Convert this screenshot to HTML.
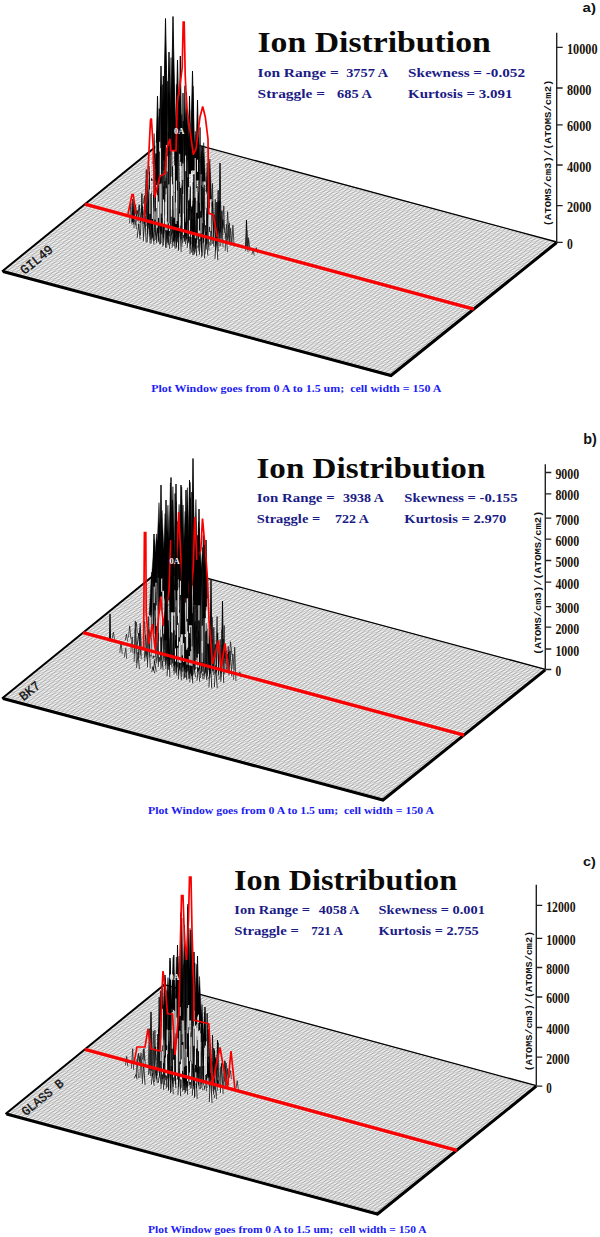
<!DOCTYPE html>
<html lang="en"><head><meta charset="utf-8"><title>Ion Distribution</title>
<style>html,body{margin:0;padding:0;background:#fff}body{width:600px;height:1237px;overflow:hidden}</style>
</head><body>
<svg width="600" height="1237" viewBox="0 0 600 1237" style="display:block">
<rect width="600" height="1237" fill="#fff"/>
<g>
<polygon points="2,271.5 167.7,137 556.7,242 391,376.5" fill="#fdfdfd"/>
<path d="M2 271.5L391 376.5M3.66 270.15L392.66 375.15M5.31 268.81L394.31 373.81M6.97 267.46L395.97 372.46M8.63 266.12L397.63 371.12M10.29 264.77L399.29 369.77M11.94 263.43L400.94 368.43M13.6 262.08L402.6 367.08M15.26 260.74L404.26 365.74M16.91 259.39L405.91 364.39M18.57 258.05L407.57 363.05M20.23 256.7L409.23 361.7M21.88 255.36L410.88 360.36M23.54 254.01L412.54 359.01M25.2 252.67L414.2 357.67M26.86 251.32L415.86 356.32M28.51 249.98L417.51 354.98M30.17 248.63L419.17 353.63M31.83 247.29L420.83 352.29M33.48 245.94L422.48 350.94M35.14 244.6L424.14 349.6M36.8 243.25L425.8 348.25M38.45 241.91L427.45 346.91M40.11 240.56L429.11 345.56M41.77 239.22L430.77 344.22M43.43 237.88L432.43 342.88M45.08 236.53L434.08 341.53M46.74 235.19L435.74 340.19M48.4 233.84L437.4 338.84M50.05 232.5L439.05 337.5M51.71 231.15L440.71 336.15M53.37 229.81L442.37 334.81M55.02 228.46L444.02 333.46M56.68 227.12L445.68 332.12M58.34 225.77L447.34 330.77M60 224.43L449 329.43M61.65 223.08L450.65 328.08M63.31 221.74L452.31 326.74M64.97 220.39L453.97 325.39M66.62 219.05L455.62 324.05M68.28 217.7L457.28 322.7M69.94 216.36L458.94 321.36M71.59 215.01L460.59 320.01M73.25 213.66L462.25 318.67M74.91 212.32L463.91 317.32M76.57 210.97L465.57 315.98M78.22 209.63L467.22 314.63M79.88 208.28L468.88 313.29M81.54 206.94L470.54 311.94M83.19 205.59L472.19 310.6M84.85 204.25L473.85 309.25M86.51 202.91L475.51 307.9M88.16 201.56L477.16 306.56M89.82 200.22L478.82 305.22M91.48 198.87L480.48 303.87M93.14 197.53L482.13 302.52M94.79 196.18L483.79 301.18M96.45 194.84L485.45 299.84M98.11 193.49L487.11 298.49M99.76 192.14L488.76 297.14M101.42 190.8L490.42 295.8M103.08 189.45L492.08 294.45M104.73 188.11L493.73 293.11M106.39 186.76L495.39 291.76M108.05 185.42L497.05 290.42M109.71 184.07L498.71 289.07M111.36 182.73L500.36 287.73M113.02 181.38L502.02 286.38M114.68 180.04L503.68 285.04M116.33 178.69L505.33 283.69M117.99 177.35L506.99 282.35M119.65 176L508.65 281M121.3 174.66L510.3 279.66M122.96 173.31L511.96 278.31M124.62 171.97L513.62 276.97M126.28 170.62L515.28 275.62M127.93 169.28L516.93 274.28M129.59 167.94L518.59 272.94M131.25 166.59L520.25 271.59M132.9 165.25L521.9 270.25M134.56 163.9L523.56 268.9M136.22 162.56L525.22 267.56M137.87 161.21L526.87 266.21M139.53 159.87L528.53 264.87M141.19 158.52L530.19 263.52M142.85 157.18L531.85 262.18M144.5 155.83L533.5 260.83M146.16 154.49L535.16 259.49M147.82 153.14L536.82 258.14M149.47 151.8L538.47 256.8M151.13 150.45L540.13 255.45M152.79 149.11L541.79 254.11M154.44 147.76L543.44 252.76M156.1 146.42L545.1 251.42M157.76 145.07L546.76 250.07M159.42 143.73L548.42 248.73M161.07 142.38L550.07 247.38M162.73 141.03L551.73 246.03M164.39 139.69L553.39 244.69M166.04 138.34L555.04 243.34M167.7 137L556.7 242" stroke="#767676" stroke-width="0.4" fill="none"/>
<path d="M2 271.5L167.7 137M5.89 272.55L171.59 138.05M9.78 273.6L175.48 139.1M13.67 274.65L179.37 140.15M17.56 275.7L183.26 141.2M21.45 276.75L187.15 142.25M25.34 277.8L191.04 143.3M29.23 278.85L194.93 144.35M33.12 279.9L198.82 145.4M37.01 280.95L202.71 146.45M40.9 282L206.6 147.5M44.79 283.05L210.49 148.55M48.68 284.1L214.38 149.6M52.57 285.15L218.27 150.65M56.46 286.2L222.16 151.7M60.35 287.25L226.05 152.75M64.24 288.3L229.94 153.8M68.13 289.35L233.83 154.85M72.02 290.4L237.72 155.9M75.91 291.45L241.61 156.95M79.8 292.5L245.5 158M83.69 293.55L249.39 159.05M87.58 294.6L253.28 160.1M91.47 295.65L257.17 161.15M95.36 296.7L261.06 162.2M99.25 297.75L264.95 163.25M103.14 298.8L268.84 164.3M107.03 299.85L272.73 165.35M110.92 300.9L276.62 166.4M114.81 301.95L280.51 167.45M118.7 303L284.4 168.5M122.59 304.05L288.29 169.55M126.48 305.1L292.18 170.6M130.37 306.15L296.07 171.65M134.26 307.2L299.96 172.7M138.15 308.25L303.85 173.75M142.04 309.3L307.74 174.8M145.93 310.35L311.63 175.85M149.82 311.4L315.52 176.9M153.71 312.45L319.41 177.95M157.6 313.5L323.3 179M161.49 314.55L327.19 180.05M165.38 315.6L331.08 181.1M169.27 316.65L334.97 182.15M173.16 317.7L338.86 183.2M177.05 318.75L342.75 184.25M180.94 319.8L346.64 185.3M184.83 320.85L350.53 186.35M188.72 321.9L354.42 187.4M192.61 322.95L358.31 188.45M196.5 324L362.2 189.5M200.39 325.05L366.09 190.55M204.28 326.1L369.98 191.6M208.17 327.15L373.87 192.65M212.06 328.2L377.76 193.7M215.95 329.25L381.65 194.75M219.84 330.3L385.54 195.8M223.73 331.35L389.43 196.85M227.62 332.4L393.32 197.9M231.51 333.45L397.21 198.95M235.4 334.5L401.1 200M239.29 335.55L404.99 201.05M243.18 336.6L408.88 202.1M247.07 337.65L412.77 203.15M250.96 338.7L416.66 204.2M254.85 339.75L420.55 205.25M258.74 340.8L424.44 206.3M262.63 341.85L428.33 207.35M266.52 342.9L432.22 208.4M270.41 343.95L436.11 209.45M274.3 345L440 210.5M278.19 346.05L443.89 211.55M282.08 347.1L447.78 212.6M285.97 348.15L451.67 213.65M289.86 349.2L455.56 214.7M293.75 350.25L459.45 215.75M297.64 351.3L463.34 216.8M301.53 352.35L467.23 217.85M305.42 353.4L471.12 218.9M309.31 354.45L475.01 219.95M313.2 355.5L478.9 221M317.09 356.55L482.79 222.05M320.98 357.6L486.68 223.1M324.87 358.65L490.57 224.15M328.76 359.7L494.46 225.2M332.65 360.75L498.35 226.25M336.54 361.8L502.24 227.3M340.43 362.85L506.13 228.35M344.32 363.9L510.02 229.4M348.21 364.95L513.91 230.45M352.1 366L517.8 231.5M355.99 367.05L521.69 232.55M359.88 368.1L525.58 233.6M363.77 369.15L529.47 234.65M367.66 370.2L533.36 235.7M371.55 371.25L537.25 236.75M375.44 372.3L541.14 237.8M379.33 373.35L545.03 238.85M383.22 374.4L548.92 239.9M387.11 375.45L552.81 240.95M391 376.5L556.7 242" stroke="#767676" stroke-width="0.45" fill="none"/>
<path d="M2 271.5L167.7 137" stroke="#000" stroke-width="2" fill="none"/>
<path d="M166.7 136.7L556.7 242" stroke="#000" stroke-width="1.3" fill="none"/>
<path d="M3 271.5L391 375.5L556.7 242.5" stroke="#000" stroke-width="3" fill="none" stroke-linejoin="miter"/>
<g transform="translate(24.5 275) rotate(-39.1)"><text x="0" y="0" font-family="'Liberation Mono','DejaVu Sans Mono',monospace" font-size="13.2" font-weight="normal" fill="#111" textLength="38" lengthAdjust="spacingAndGlyphs" stroke="#111" stroke-width="0.35" xml:space="preserve">GIL49</text></g>
<path d="M149.3 180.4L151 178.1L152.7 180.4ZM152.9 164L154.1 133.4L155.3 164ZM155.2 168.7L156.8 130.8L158.4 168.7ZM158.1 155.2L159.8 113.1L161.5 155.2ZM161.4 147.8L162.6 84.6L163.9 147.8ZM164.6 167.2L166 82.3L167.4 167.2ZM167.5 155.1L168.8 93.2L170.1 155.1ZM169.7 149.8L171 57.5L172.4 149.8ZM171.8 146.6L173.4 58.6L175 146.6ZM174.7 161L176.4 84.3L178 161ZM177.8 153.8L179.4 96.2L180.9 153.8ZM180.1 165.9L181.8 114.4L183.4 165.9ZM183 161.9L184.7 85.7L186.5 161.9ZM185.6 159.5L187.3 125.7L189.1 159.5ZM187.8 173.7L189.7 109.9L191.6 173.7ZM191.7 166L193.2 86.2L194.6 166ZM193.6 165.8L195.3 131.2L197 165.8ZM196.8 162.7L198.5 137.2L200.3 162.7ZM199.8 174.1L201.5 146.4L203.2 174.1ZM202 181.3L203.7 142.6L205.4 181.3ZM205.9 191.6L207.2 162.8L208.5 191.6ZM207.9 199L209.8 159L211.6 199Z" fill="#000" stroke="#000" stroke-width="0.5" stroke-linejoin="miter" stroke-miterlimit="30"/>
<path d="M163 150L165.5 18.5L168 150ZM170.4 150L173 16.5L175.6 150ZM158.8 170L161 66L163.2 170ZM155.5 180L157.5 96L159.5 180ZM190.3 170L192.5 71L194.7 170ZM195.6 180L197.5 100L199.4 180ZM166.8 150L169 52L171.2 150ZM175.5 150L177.5 60L179.5 150ZM178.9 150L180.3 56L181.7 150ZM184.7 160L186.5 92L188.3 160ZM161.7 160L163.3 76L164.9 160ZM187.9 170L189.5 96L191.1 170ZM219 238L220 163L221 238ZM245.6 248L246.5 220L247.4 248ZM132.1 222L133 199L133.9 222Z" stroke="#000" stroke-width="0.9" fill="#000" stroke-linejoin="miter" stroke-miterlimit="30"/>
<path d="M145 202.3L146.3 169.4L147.3 203.4M148.9 203.4L150 166.1L151.2 204.5M218.9 222.3L220 186.4L221.2 223.4M143.3 203.7L144.5 195.6L145.7 204.7M174.5 212.1L175.8 181.2L176.8 213.1M153.3 208.2L154.5 157.9L155.7 209.2M165 211.3L166.1 177.9L167.3 212.4M196.1 219.7L197.1 199.7L198.5 220.8M159.5 211.6L160.9 171.8L161.8 212.7M175 215.8L176.4 168.5L177.4 216.9M217.8 227.4L219 201.6L220.2 228.4M148.4 212.2L149.7 187.9L150.7 213.3M195.1 224.8L196.5 190.4L197.4 225.9M202.8 226.9L204.3 184.9L205.2 228M206.7 228L207.9 195.4L209.1 229M222.3 232.2L223.8 205.9L224.6 233.2M170.1 219.9L171.6 205.5L172.4 220.9M220.6 233.5L222 210.7L223 234.6M141.2 213.9L142.5 205.6L143.5 214.9M145.1 214.9L146.5 188.4L147.4 216M148.9 216L149.8 194.7L151.3 217M168.4 221.2L169.2 192.7L170.7 222.3M187.8 226.5L189 199.3L190.2 227.5M195.6 228.6L197.1 186.2L198 229.6M199.5 229.6L200.4 197.6L201.9 230.7M211.2 232.8L212.5 183.4L213.5 233.8M215.1 233.8L216.3 211.8L217.4 234.9M226.7 237L227.6 211.6L229.1 238M155.1 219.4L156.6 178.6L157.4 220.5M162.9 221.5L163.7 185.9L165.2 222.6M170.6 223.6L171.8 184L173 224.7M186.2 227.8L187.1 183.9L188.5 228.9M194 229.9L194.8 186.5L196.3 231M205.6 233.1L207.1 185.7L208 234.1M213.4 235.2L214.9 221.5L215.8 236.2M225.1 238.3L226.6 224.5L227.4 239.4M145.6 218.7L146.9 184.5L148 219.7M165.1 223.9L166 181L167.4 225M169 225L170.4 195.3L171.3 226M196.2 232.3L197.2 202.6L198.5 233.4M200.1 233.4L201.3 185.5L202.4 234.4M207.9 235.5L208.7 210.9L210.2 236.5M215.7 237.6L216.5 202.1L218 238.6M219.5 238.6L220.4 216.2L221.9 239.7M227.3 240.7L228.4 224.9L229.7 241.8M246.8 246L248.3 237.6L249.1 247M144 220L144.9 197.7L146.3 221.1M155.6 223.2L156.7 198.1L158 224.2M179 229.4L180 189.4L181.3 230.5M190.7 232.6L192.1 205.1L193 233.7M214 238.9L215.3 199.5L216.3 240M229.6 243.1L230.6 228.4L231.9 244.2M154 224.5L155 177.5L156.3 225.5M165.7 227.6L166.8 190.9L168 228.7M169.6 228.7L170.9 205.1L171.9 229.7M173.4 229.7L174.5 207.5L175.8 230.8M185.1 232.9L186.5 202.8L187.4 233.9M189 233.9L190.5 187.7L191.3 235M196.8 236L197.7 195.6L199.1 237.1M200.7 237.1L202 211.6L203 238.1M227.9 244.4L229.4 222.8L230.2 245.5M231.8 245.5L232.9 225.2L234.1 246.5M247.4 249.7L248.7 239.8L249.7 250.7M255.1 251.8L256.3 247.7L257.5 252.8M136.8 221.6L137.6 212.3L139.1 222.7M160.1 227.9L161.2 178.4L162.4 229M164 229L164.8 181L166.3 230M167.9 230L169 202.4L170.2 231.1M175.7 232.1L177.2 208.8L178 233.2M183.5 234.2L184.7 192.8L185.8 235.3M187.3 235.3L188.2 218.7L189.7 236.3M202.9 239.5L204 188.5L205.2 240.5M206.8 240.5L208.1 212.1L209.1 241.6M210.7 241.6L212.2 202.7L213 242.6M214.6 242.6L216.1 216.2L216.9 243.7M245.7 251L246.8 230.3L248 252.1M146.8 226.1L147.8 178.7L149.1 227.2M162.3 230.3L163.6 189.7L164.7 231.4M189.6 237.7L190.5 186.6L191.9 238.7M193.5 238.7L194.8 210.9L195.8 239.8M205.1 241.9L205.9 211.1L207.5 242.9M216.8 245L217.8 201.8L219.1 246.1M220.7 246.1L221.6 211.5L223 247.1M251.8 254.5L253.2 250L254.2 255.5M129.6 223.3L130.9 202.6L131.9 224.3M133.5 224.3L134.5 215.7L135.8 225.4M145.1 227.5L146.3 180.9L147.5 228.5M164.6 232.7L165.5 206.8L166.9 233.8M180.1 236.9L181.1 197.3L182.5 238M215.2 246.4L216.1 203.3L217.5 247.4M147.4 229.9L148.4 208.3L149.7 230.9M197.9 243.5L199.4 204.6L200.3 244.6M205.7 245.6L207.2 222.5L208 246.7M225.2 250.9L226 233.5L227.5 251.9M134 228.1L134.8 203.8L136.4 229.1M149.6 232.3L151 213.5L151.9 233.3M161.3 235.4L162.6 197.7L163.6 236.5M180.7 240.7L181.9 194.6L183.1 241.7M194.6 246.2L195.8 200.9L197 247.3M198.5 247.3L199.6 233.1L200.8 248.3M161.8 239.2L162.7 194.5L164.2 240.2M165.7 240.2L167.2 226.6L168.1 241.3M169.6 241.3L171.1 227L172 242.3M177.4 243.4L178.7 223.1L179.7 244.4M196.9 248.6L198.1 201.5L199.2 249.7M148.5 237.4L149.5 198.6L150.8 238.4M164.1 241.6L165.2 205.5L166.4 242.6M179.6 245.8L180.5 213.6L182 246.8M154.6 240.8L155.7 225.2L157 241.8" stroke="#222" stroke-width="0.8" fill="#fff" fill-opacity="0.35" stroke-linejoin="miter" stroke-miterlimit="20"/>
<path d="M198.9 213.3L199.7 203.3L201.2 214.4M197.8 218.4L199.1 180.4L200.1 219.4M207.8 222.9L208.7 195.7L210.1 223.9M221.7 228.4L223 219.5L224 229.5M157.8 213L159.3 134.7L160.1 214M161.7 214L162.8 122.8L164 215.1M185 220.3L186.2 156.8L187.4 221.4M188.9 221.4L190.1 198.5L191.3 222.4M192.8 222.4L194.1 174.5L195.2 223.5M163.9 216.4L165.2 122.9L166.3 217.5M187.3 222.7L188.3 173.3L189.6 223.8M218.4 231.1L219.8 200.7L220.7 232.2M181.7 223L183 93L184.1 224.1M185.6 224.1L186.8 197.8L188 225.1M197.3 227.2L198.3 192.7L199.6 228.3M201.2 228.3L202.4 145.8L203.5 229.3M216.7 232.5L218.2 190.2L219.1 233.5M156.7 218.1L157.8 116.5L159.1 219.1M184 225.4L185 159.8L186.3 226.5M166.7 222.6L167.9 128.5L169.1 223.6M174.5 224.7L175.6 150.8L176.9 225.7M178.4 225.7L179.9 182L180.7 226.8M201.8 232L202.8 187.3L204.1 233.1M137.9 216.6L139.2 204.7L140.2 217.6M176.8 227.1L177.7 126.5L179.1 228.1M184.5 229.2L185.9 124.5L186.9 230.2M192.3 231.3L193.1 182.2L194.6 232.3" stroke="#000" stroke-width="0.8" stroke-linejoin="miter" stroke-miterlimit="20" fill="none"/>
<path d="M136 217.9L137.2 210.4L138.8 219M159.3 224.2L160.6 86.5L162.1 225.2M167.1 226.3L168.3 132.3L169.9 227.3M171 227.3L172.5 166.5L173.8 228.4M174.9 228.4L176.2 148.8L177.7 229.5M186.5 231.5L187.8 177.2L189.3 232.6M194.3 233.7L195.6 172.4L197.1 234.7M198.2 234.7L199.2 202.9L201 235.8M134.3 219.2L135.6 205.4L137.1 220.3M177.1 230.8L178.2 124.4L179.9 231.8M181 231.8L182.1 185.9L183.8 232.9M192.7 235L194.1 174.5L195.5 236M140.4 222.7L142 206.9L143.2 223.7M144.3 223.7L146.1 203.7L147.1 224.8M148.2 224.8L149.9 171.9L151 225.8M179.3 233.2L180.6 183.9L182.1 234.2M191 236.3L192.3 206.9L193.8 237.4M198.8 238.4L200 127.4L201.6 239.5M158.2 229.3L159.3 108.7L161 230.3M166 231.4L167.8 81.3L168.8 232.4M169.9 232.4L171.3 113.7L172.7 233.5M173.8 233.5L175 140.2L176.6 234.5M181.6 235.6L183.1 195.6L184.4 236.6M185.5 236.6L186.8 208.5L188.3 237.7M197.1 239.8L198.6 197.2L199.9 240.8M201 240.8L202.6 201.4L203.8 241.9M212.7 244L214.1 214.8L215.5 245M148.8 228.5L150.1 185.4L151.6 229.6M160.5 231.7L161.6 122.9L163.3 232.7M168.2 233.8L169.7 130.2L171 234.8M176 235.9L177.4 138.1L178.8 236.9M183.8 238L185.3 130.8L186.6 239M187.7 239L189.3 205.2L190.5 240.1M203.2 243.2L204.9 220.1L206 244.3M207.1 244.3L208.6 180.3L209.9 245.3M211 245.3L212.6 201.4L213.8 246.4M154.9 232L156.1 194.1L157.7 233M158.8 233L160.6 171.8L161.6 234.1M166.6 235.1L168.2 196.4L169.4 236.2M174.4 237.2L176 147L177.2 238.3M178.2 238.3L179.6 208.9L181.1 239.3M182.1 239.3L183.3 121L184.9 240.4M186 240.4L187.8 138.2L188.8 241.4M193.8 242.5L195.6 159.7L196.6 243.5M184.4 241.7L185.8 222L187.2 242.8M188.3 242.8L189.5 227.8L191.1 243.8M196 244.9L197.8 216.3L198.8 245.9M215.5 250.1L216.9 232L218.3 251.2M147.7 233.6L149.3 191.7L150.5 234.7M155.5 235.7L157.2 174L158.3 236.8M163.3 237.8L164.5 209.3L166.1 238.9M171 239.9L172.5 219.5L173.8 241M174.9 241L176.2 145.3L177.7 242M182.7 243.1L184.3 218.4L185.5 244.1M190.5 245.2L191.5 208.8L193.3 246.2M206.1 249.4L207.2 213.6L208.9 250.4M149.9 236L151 192.9L152.7 237.1M173.3 242.3L174.5 225.4L176.1 243.4M192.7 247.6L193.9 198.8L195.5 248.6M140.5 235.3L141.9 193.5L143.3 236.3M152.2 238.4L153.4 195L155 239.5M156.1 239.5L157.6 225L158.9 240.5M167.7 242.6L168.8 208.6L170.5 243.7M187.2 247.9L188.8 229.2L190 248.9M198.9 251L200.2 211.1L201.7 252.1M150.5 239.7L151.8 225L153.3 240.8M158.3 241.8L159.6 218.4L161.1 242.9M166.1 243.9L167.1 227.3L168.9 245M173.9 246L175.5 222.6L176.7 247.1M193.3 251.3L194.4 212.1L196.1 252.3M205 254.4L206.2 232L207.8 255.5M137.2 237.9L138.8 223.8L140 239M156.6 243.2L158.2 215.4L159.4 244.2M160.5 244.2L161.7 218.2L163.3 245.3M172.2 247.4L173.7 210L175 248.4M176.1 248.4L177.1 224.2L178.9 249.5M191.6 252.6L193.2 219.6L194.4 253.7M199.4 254.7L200.9 228.9L202.2 255.8M215 258.9L216.3 235.2L217.8 260M143.3 241.4L145 216.2L146.1 242.4M147.2 242.4L148.5 200.8L150 243.5M151.1 243.5L152.6 216.3L153.9 244.5M162.8 246.6L164.4 220.7L165.6 247.7M166.7 247.7L168.1 227.5L169.5 248.7M178.3 250.8L179.7 215.2L181.1 251.9M190 254L191.7 217.3L192.8 255M193.9 255L194.9 237.7L196.7 256.1M201.7 257.1L202.8 223.2L204.5 258.2" stroke="#000" stroke-width="0.8" stroke-linejoin="miter" stroke-miterlimit="20" fill="#fff" fill-opacity="0.72"/>
<path d="M160 184.1V224M155 211.4V219.6M209.6 232V241.9M188.7 187.1V200.4M171.4 180.9V216.7M156.5 185.1V208.1M183.5 213.5V234.9M169.4 223.3V231.1M166.2 188.4V224.1M152.4 195.3V218.9M167.2 156.2V171.6M176.4 180.6V207.9M166.1 194.4V217.6M198.4 218.6V234.1M209.6 208.2V226.9M165.2 201.9V223.9M191.6 170.8V206.4M165.8 215.2V230.1M174.2 193V217.8M183.2 194.1V232.5M195.2 158.1V197.8M150.5 159.7V193.9M166.4 145.1V158.8M180 216.9V225.5M159.7 141.9V151.6M168.9 184.4V223.4M189.4 220.3V236.5M205.5 209.5V225.2M172.4 184.4V195.9M206.3 193.8V208.2M179.7 213.6V230.3M185.6 155.5V171.2M161 183.5V213.5M163.5 199.5V226.2M195.7 233.8V238.2M210.8 206.6V230.9M160.4 148.1V176.8M155.8 142.7V153.4M182.9 163.5V179.9M196.7 188.1V200.9M191.3 232.5V237M176.9 190.5V221M201 217.7V233.6M197.5 159.7V171.8M180.7 161.9V187.9M167 221.7V230.4M199.7 230.6V239.2M196.8 192V212.8M157.1 195.2V227.8M191.8 176V200.8M171.4 176.7V209.5M149.9 189.5V213.9M158.5 201.7V217.9M174.3 165.5V192.6M176 202.4V224" stroke="#f4f4f4" stroke-width="0.95" fill="none"/>
<polyline points="128,214 132,194.5 133.2,194.5 136,214.5" stroke="#fa0000" stroke-width="1.7" fill="none" stroke-linejoin="miter" stroke-miterlimit="3"/>
<polyline points="144,221 148,171 150.5,120 151.4,118.5 153.3,149 154.7,197.5 160,176 165.3,173.5 166.7,149.5 169.9,138.7 170.7,150.7 176,150.7 177.3,101 179.6,88 182.2,68 183.2,22 184.2,22 185.2,75 186.7,107 189.3,125 193.3,154.7 196,149 200,117 202.7,106.5 205.3,117 208,139 208.8,213.3 213.3,214.7 217.3,237.3" stroke="#fa0000" stroke-width="1.7" fill="none" stroke-linejoin="miter" stroke-miterlimit="3"/>
<path d="M84.9 204.2L473.9 309.2" stroke="#fa0000" stroke-width="3.3" fill="none"/>
<text x="174" y="133.5" font-family="'Liberation Serif','DejaVu Serif',serif" font-size="8.5" font-weight="bold" fill="#f4f7ff"  xml:space="preserve">0A</text>
<path d="M556.7 32.7V242" stroke="#222" stroke-width="1.4"/>
<text x="567" y="53.9" font-family="'Liberation Serif','DejaVu Serif',serif" font-size="14.7" font-weight="bold" fill="#1a1208" textLength="30.6" lengthAdjust="spacingAndGlyphs"  xml:space="preserve">10000</text>
<text x="567" y="94.6" font-family="'Liberation Serif','DejaVu Serif',serif" font-size="14.7" font-weight="bold" fill="#1a1208" textLength="24.4" lengthAdjust="spacingAndGlyphs"  xml:space="preserve">8000</text>
<text x="567" y="131.4" font-family="'Liberation Serif','DejaVu Serif',serif" font-size="14.7" font-weight="bold" fill="#1a1208" textLength="24.4" lengthAdjust="spacingAndGlyphs"  xml:space="preserve">6000</text>
<text x="567" y="171.6" font-family="'Liberation Serif','DejaVu Serif',serif" font-size="14.7" font-weight="bold" fill="#1a1208" textLength="24.4" lengthAdjust="spacingAndGlyphs"  xml:space="preserve">4000</text>
<text x="567" y="212.2" font-family="'Liberation Serif','DejaVu Serif',serif" font-size="14.7" font-weight="bold" fill="#1a1208" textLength="24.4" lengthAdjust="spacingAndGlyphs"  xml:space="preserve">2000</text>
<text x="567" y="249" font-family="'Liberation Serif','DejaVu Serif',serif" font-size="14.7" font-weight="bold" fill="#1a1208" textLength="5.8" lengthAdjust="spacingAndGlyphs"  xml:space="preserve">0</text>
<path d="M556.7 47.3H562.7M556.7 88H562.7M556.7 124.8H562.7M556.7 165H562.7M556.7 205.6H562.7M556.7 242.4H562.7" stroke="#222" stroke-width="1.3"/>
<g transform="translate(551.3 226.3) rotate(-90)"><text x="0" y="0" font-family="'Liberation Mono','DejaVu Sans Mono',monospace" font-size="8.6" font-weight="bold" fill="#111" textLength="146.7" lengthAdjust="spacingAndGlyphs"  xml:space="preserve">(ATOMS/cm3)/(ATOMS/cm2)</text></g>
<text x="582.6" y="12" font-family="'Liberation Sans','DejaVu Sans',sans-serif" font-size="12.9" font-weight="bold" fill="#111" textLength="13.3" lengthAdjust="spacingAndGlyphs"  xml:space="preserve">a)</text>
<text x="257.5" y="52" font-family="'Liberation Serif','DejaVu Serif',serif" font-size="30.2" font-weight="bold" fill="#0c0a08" textLength="233.3" lengthAdjust="spacingAndGlyphs"  xml:space="preserve">Ion Distribution</text>
<text x="257.6" y="77" font-family="'Liberation Serif','DejaVu Serif',serif" font-size="13.4" font-weight="bold" fill="#1b1b86" textLength="81.2" lengthAdjust="spacingAndGlyphs"  xml:space="preserve">Ion Range =</text>
<text x="346.2" y="77" font-family="'Liberation Serif','DejaVu Serif',serif" font-size="13.4" font-weight="bold" fill="#1b1b86" textLength="41.8" lengthAdjust="spacingAndGlyphs"  xml:space="preserve">3757 A</text>
<text x="408" y="77" font-family="'Liberation Serif','DejaVu Serif',serif" font-size="13.4" font-weight="bold" fill="#1b1b86" textLength="117" lengthAdjust="spacingAndGlyphs"  xml:space="preserve">Skewness = -0.052</text>
<text x="257.6" y="98" font-family="'Liberation Serif','DejaVu Serif',serif" font-size="13.4" font-weight="bold" fill="#1b1b86" textLength="67.4" lengthAdjust="spacingAndGlyphs"  xml:space="preserve">Straggle =</text>
<text x="337" y="98" font-family="'Liberation Serif','DejaVu Serif',serif" font-size="13.4" font-weight="bold" fill="#1b1b86" textLength="34.8" lengthAdjust="spacingAndGlyphs"  xml:space="preserve">685 A</text>
<text x="408" y="98" font-family="'Liberation Serif','DejaVu Serif',serif" font-size="13.4" font-weight="bold" fill="#1b1b86" textLength="104.5" lengthAdjust="spacingAndGlyphs"  xml:space="preserve">Kurtosis = 3.091</text>
<text x="151.2" y="391.5" font-family="'Liberation Serif','DejaVu Serif',serif" font-size="10" font-weight="bold" fill="#1c1cf5" textLength="290.2" lengthAdjust="spacingAndGlyphs"  xml:space="preserve">Plot Window goes from 0 A to 1.5 um;  cell width = 150 A</text>
</g>
<g>
<polygon points="2,698.5 164.3,566.8 545.3,669.3 383,801" fill="#fdfdfd"/>
<path d="M2 698.5L383 801M3.62 697.18L384.62 799.68M5.25 695.87L386.25 798.37M6.87 694.55L387.87 797.05M8.49 693.23L389.49 795.73M10.11 691.91L391.12 794.41M11.74 690.6L392.74 793.1M13.36 689.28L394.36 791.78M14.98 687.96L395.98 790.46M16.61 686.65L397.61 789.15M18.23 685.33L399.23 787.83M19.85 684.01L400.85 786.51M21.48 682.7L402.48 785.2M23.1 681.38L404.1 783.88M24.72 680.06L405.72 782.56M26.34 678.75L407.34 781.25M27.97 677.43L408.97 779.93M29.59 676.11L410.59 778.61M31.21 674.79L412.21 777.29M32.84 673.48L413.84 775.98M34.46 672.16L415.46 774.66M36.08 670.84L417.08 773.34M37.71 669.53L418.71 772.03M39.33 668.21L420.33 770.71M40.95 666.89L421.95 769.39M42.57 665.58L423.57 768.08M44.2 664.26L425.2 766.76M45.82 662.94L426.82 765.44M47.44 661.62L428.44 764.12M49.07 660.31L430.07 762.81M50.69 658.99L431.69 761.49M52.31 657.67L433.31 760.17M53.94 656.36L434.94 758.86M55.56 655.04L436.56 757.54M57.18 653.72L438.18 756.22M58.8 652.4L439.81 754.9M60.43 651.09L441.43 753.59M62.05 649.77L443.05 752.27M63.67 648.45L444.67 750.95M65.3 647.14L446.3 749.64M66.92 645.82L447.92 748.32M68.54 644.5L449.54 747M70.17 643.19L451.17 745.69M71.79 641.87L452.79 744.37M73.41 640.55L454.41 743.05M75.03 639.24L456.03 741.74M76.66 637.92L457.66 740.42M78.28 636.6L459.28 739.1M79.9 635.28L460.9 737.78M81.53 633.97L462.53 736.47M83.15 632.65L464.15 735.15M84.77 631.33L465.77 733.83M86.4 630.02L467.4 732.52M88.02 628.7L469.02 731.2M89.64 627.38L470.64 729.88M91.26 626.06L472.26 728.56M92.89 624.75L473.89 727.25M94.51 623.43L475.51 725.93M96.13 622.11L477.13 724.61M97.76 620.8L478.76 723.3M99.38 619.48L480.38 721.98M101 618.16L482 720.66M102.63 616.85L483.63 719.35M104.25 615.53L485.25 718.03M105.87 614.21L486.87 716.71M107.49 612.89L488.5 715.39M109.12 611.58L490.12 714.08M110.74 610.26L491.74 712.76M112.36 608.94L493.36 711.44M113.99 607.63L494.99 710.13M115.61 606.31L496.61 708.81M117.23 604.99L498.23 707.49M118.86 603.68L499.86 706.18M120.48 602.36L501.48 704.86M122.1 601.04L503.1 703.54M123.72 599.72L504.72 702.22M125.35 598.41L506.35 700.91M126.97 597.09L507.97 699.59M128.59 595.77L509.59 698.27M130.22 594.46L511.22 696.96M131.84 593.14L512.84 695.64M133.46 591.82L514.46 694.32M135.09 590.51L516.09 693.01M136.71 589.19L517.71 691.69M138.33 587.87L519.33 690.37M139.95 586.55L520.95 689.05M141.58 585.24L522.58 687.74M143.2 583.92L524.2 686.42M144.82 582.6L525.82 685.1M146.45 581.29L527.45 683.79M148.07 579.97L529.07 682.47M149.69 578.65L530.69 681.15M151.32 577.34L532.32 679.84M152.94 576.02L533.94 678.52M154.56 574.7L535.56 677.2M156.18 573.38L537.18 675.88M157.81 572.07L538.81 674.57M159.43 570.75L540.43 673.25M161.05 569.43L542.05 671.93M162.68 568.12L543.68 670.62M164.3 566.8L545.3 669.3" stroke="#767676" stroke-width="0.4" fill="none"/>
<path d="M2 698.5L164.3 566.8M5.81 699.52L168.11 567.82M9.62 700.55L171.92 568.85M13.43 701.58L175.73 569.88M17.24 702.6L179.54 570.9M21.05 703.62L183.35 571.92M24.86 704.65L187.16 572.95M28.67 705.67L190.97 573.97M32.48 706.7L194.78 575M36.29 707.73L198.59 576.02M40.1 708.75L202.4 577.05M43.91 709.77L206.21 578.07M47.72 710.8L210.02 579.1M51.53 711.83L213.83 580.12M55.34 712.85L217.64 581.15M59.15 713.88L221.45 582.17M62.96 714.9L225.26 583.2M66.77 715.92L229.07 584.22M70.58 716.95L232.88 585.25M74.39 717.98L236.69 586.27M78.2 719L240.5 587.3M82.01 720.02L244.31 588.32M85.82 721.05L248.12 589.35M89.63 722.08L251.93 590.38M93.44 723.1L255.74 591.4M97.25 724.12L259.55 592.42M101.06 725.15L263.36 593.45M104.87 726.17L267.17 594.47M108.68 727.2L270.98 595.5M112.49 728.23L274.79 596.52M116.3 729.25L278.6 597.55M120.11 730.27L282.41 598.57M123.92 731.3L286.22 599.6M127.73 732.33L290.03 600.62M131.54 733.35L293.84 601.65M135.35 734.38L297.65 602.67M139.16 735.4L301.46 603.7M142.97 736.42L305.27 604.72M146.78 737.45L309.08 605.75M150.59 738.48L312.89 606.77M154.4 739.5L316.7 607.8M158.21 740.52L320.51 608.82M162.02 741.55L324.32 609.85M165.83 742.58L328.13 610.88M169.64 743.6L331.94 611.9M173.45 744.62L335.75 612.92M177.26 745.65L339.56 613.95M181.07 746.67L343.37 614.97M184.88 747.7L347.18 616M188.69 748.73L350.99 617.02M192.5 749.75L354.8 618.05M196.31 750.77L358.61 619.07M200.12 751.8L362.42 620.1M203.93 752.83L366.23 621.12M207.74 753.85L370.04 622.15M211.55 754.88L373.85 623.17M215.36 755.9L377.66 624.2M219.17 756.92L381.47 625.22M222.98 757.95L385.28 626.25M226.79 758.98L389.09 627.27M230.6 760L392.9 628.3M234.41 761.02L396.71 629.32M238.22 762.05L400.52 630.35M242.03 763.08L404.33 631.38M245.84 764.1L408.14 632.4M249.65 765.12L411.95 633.42M253.46 766.15L415.76 634.45M257.27 767.17L419.57 635.47M261.08 768.2L423.38 636.5M264.89 769.23L427.19 637.52M268.7 770.25L431 638.55M272.51 771.27L434.81 639.57M276.32 772.3L438.62 640.6M280.13 773.33L442.43 641.62M283.94 774.35L446.24 642.65M287.75 775.38L450.05 643.67M291.56 776.4L453.86 644.7M295.37 777.42L457.67 645.72M299.18 778.45L461.48 646.75M302.99 779.48L465.29 647.77M306.8 780.5L469.1 648.8M310.61 781.52L472.91 649.82M314.42 782.55L476.72 650.85M318.23 783.58L480.53 651.88M322.04 784.6L484.34 652.9M325.85 785.62L488.15 653.92M329.66 786.65L491.96 654.95M333.47 787.67L495.77 655.97M337.28 788.7L499.58 657M341.09 789.73L503.39 658.02M344.9 790.75L507.2 659.05M348.71 791.77L511.01 660.07M352.52 792.8L514.82 661.1M356.33 793.83L518.63 662.12M360.14 794.85L522.44 663.15M363.95 795.88L526.25 664.17M367.76 796.9L530.06 665.2M371.57 797.92L533.87 666.22M375.38 798.95L537.68 667.25M379.19 799.98L541.49 668.27M383 801L545.3 669.3" stroke="#767676" stroke-width="0.45" fill="none"/>
<path d="M2 698.5L164.3 566.8" stroke="#000" stroke-width="2" fill="none"/>
<path d="M163.3 566.5L545.3 669.3" stroke="#000" stroke-width="1.3" fill="none"/>
<path d="M3 698.5L383 800L545.3 669.8" stroke="#000" stroke-width="3" fill="none" stroke-linejoin="miter"/>
<g transform="translate(23.5 701.3) rotate(-39.1)"><text x="0" y="0" font-family="'Liberation Mono','DejaVu Sans Mono',monospace" font-size="12.9" font-weight="normal" fill="#111" textLength="22.5" lengthAdjust="spacingAndGlyphs" stroke="#111" stroke-width="0.35" xml:space="preserve">BK7</text></g>
<path d="M149.2 614.9L151.5 572.2L153.8 614.9ZM151.3 582.4L154.2 539.6L157.1 582.4ZM153.4 572.6L156.6 533.9L159.9 572.6ZM155.7 577.8L159 502.7L162.3 577.8ZM159 576.9L162 510.4L165 576.9ZM162.3 590.7L165.1 513.6L168 590.7ZM165 594.8L167.9 505.2L170.8 594.8ZM167.6 599.6L170.4 483L173.1 599.6ZM170.5 590.7L172.9 486.7L175.3 590.7ZM173.7 583.6L176.1 501.2L178.5 583.6ZM176.7 580.3L179.1 504.4L181.5 580.3ZM178.8 583.6L181.7 487.1L184.5 583.6ZM182.4 580.1L185.1 511.4L187.8 580.1ZM184.1 595.1L187.4 487.7L190.6 595.1ZM187.6 600.8L190.1 482.2L192.7 600.8ZM190 591.6L193 493.2L196 591.6ZM193.3 604.6L195.9 499.5L198.6 604.6ZM195.8 586.5L199 527.8L202.3 586.5ZM199.7 600L202.5 547.3L205.3 600ZM202.6 604.3L205.1 547.7L207.6 604.3Z" fill="#000" stroke="#000" stroke-width="0.5" stroke-linejoin="miter" stroke-miterlimit="30"/>
<path d="M191.1 600L193 458.5L194.9 600ZM169.2 600L171 477.5L172.8 600ZM159.3 610L161 485L162.7 610ZM179.3 600L181 485L182.7 600ZM184.4 600L186 490L187.6 600ZM174.5 600L176 484L177.5 600ZM197.5 600L199 509L200.5 600ZM152.5 610L154 534L155.5 610ZM164.4 600L166 500L167.6 600ZM188.1 600L189.5 480L190.9 600ZM204.7 610L206 540L207.3 610ZM109.5 641L110 614L110.5 641ZM210 660L211 580L212 660ZM221.5 665L222.5 601L223.5 665Z" stroke="#000" stroke-width="0.9" fill="#000" stroke-linejoin="miter" stroke-miterlimit="30"/>
<path d="M199.2 646.1L200.2 603.1L201.5 647.2M229.7 654.3L230.5 641.8L232 655.4M182.3 643.3L183.4 599.1L184.6 644.4M186.1 644.4L187.2 630.9L188.4 645.4M201.4 648.5L202.5 613.8L203.7 649.5M135 632.4L136.3 622.3L137.3 633.4M163.9 641.9L164.8 616.8L166.1 642.9M143.2 638.1L144.7 621.4L145.5 639.1M173.7 646.3L175 619.9L175.9 647.3M188.9 650.4L189.8 634.6L191.2 651.4M204.1 654.5L205.4 640.5L206.4 655.5M211.8 656.5L212.8 629L214 657.5M215.6 657.5L217.1 616.5L217.9 658.6M164.4 645.5L165.7 615.8L166.7 646.6M183.5 650.7L184.6 616.8L185.8 651.7M198.7 654.8L199.6 621.3L201 655.8M128.5 637.6L129.7 625.9L130.8 638.7M155.2 644.8L156.6 616.8L157.5 645.8M166.6 647.9L167.9 609.7L168.9 648.9M181.8 652L182.9 601.7L184.1 653M161.2 648.2L162.1 620.3L163.5 649.2M176.4 652.3L177.5 627.8L178.7 653.3M184 654.3L185 622.9L186.3 655.3M187.8 655.3L189.2 623.7L190.1 656.4M191.7 656.4L192.4 610.2L193.9 657.4M125.3 640.3L126.5 634.2L127.5 641.3M167.2 651.5L168.1 626.7L169.5 652.6M186.2 656.7L187.6 641.6L188.5 657.7M190 657.7L191.3 633.6L192.3 658.7M193.8 658.7L194.9 631.7L196.1 659.7M212.9 663.8L213.8 627.2L215.2 664.9M231.9 669L232.8 654L234.2 670M112.2 638.5L113.4 632.1L114.5 639.5M138.9 645.7L140.2 623.4L141.2 646.7M150.3 648.8L151.6 618.7L152.6 649.8M169.4 653.9L170.9 640.9L171.6 654.9M177 655.9L177.9 639.8L179.3 657M188.4 659L189.3 626.6L190.7 660M192.2 660L193 628L194.5 661.1M203.6 663.1L205.1 632.6L205.9 664.1M211.3 665.2L212.2 617.3L213.6 666.2M222.7 668.2L224.2 625.5L225 669.3M226.5 669.3L227.4 654.2L228.8 670.3M152.5 651.1L153.6 624.7L154.8 652.1M160.1 653.1L161.2 633.9L162.4 654.2M179.2 658.3L180.5 619.7L181.4 659.3M194.4 662.4L195.2 621L196.7 663.4M198.2 663.4L199.7 639.7L200.5 664.4M221.1 669.5L221.8 629.8L223.4 670.6M166.1 656.5L167.5 622.4L168.4 657.5M189 662.7L189.8 626L191.3 663.7M211.8 668.8L213.1 654.9L214.1 669.8M215.6 669.8L217.2 634.7L217.9 670.9M219.4 670.9L220.2 639.4L221.7 671.9M227.1 672.9L228.2 646.4L229.4 673.9M238.5 676L239.9 671.8L240.8 677M153.1 654.8L154.1 624.2L155.3 655.8M160.7 656.8L161.8 624.6L163 657.8M164.5 657.8L165.4 614.7L166.8 658.9M172.1 659.9L173.1 639.5L174.4 660.9M175.9 660.9L177.2 639.4L178.2 661.9M202.6 668.1L203.4 637.5L204.9 669.1M147.6 655.1L148.7 616.6L149.9 656.1M159.1 658.1L160.3 630.4L161.3 659.2M162.9 659.2L163.7 619.4L165.1 660.2M170.5 661.2L171.8 614.4L172.8 662.2M193.3 667.4L194.2 623.3L195.6 668.4M201 669.4L202 634.9L203.2 670.4M208.6 671.5L209.5 621.7L210.9 672.5M212.4 672.5L213.8 647.8L214.7 673.5M130.8 652.3L132.2 636.8L133 653.3M134.6 653.3L135.3 621L136.9 654.3M138.4 654.3L139.8 630.3L140.7 655.3M146 656.4L147.4 629.2L148.3 657.4M149.8 657.4L151 612L152.1 658.4M165 661.5L166.5 621.7L167.3 662.5M168.9 662.5L169.7 649.8L171.1 663.5M233.6 679.9L234.7 647.1L235.9 681M144.4 657.7L145.5 635.3L146.7 658.7M155.8 660.8L156.6 642.8L158.1 661.8M190.1 670L191 656.7L192.4 671M205.3 674.1L206.4 624.9L207.6 675.1M119.9 652.9L121 641.2L122.2 653.9M138.9 658L140.3 627.2L141.2 659M154.2 662.1L155.4 643.6L156.5 663.1M192.3 672.3L193.4 645.9L194.6 673.4M199.9 674.4L201 624.6L202.2 675.4M203.7 675.4L204.8 635.5L206 676.4M219 679.5L220 664L221.2 680.5M160.2 665.4L161.7 636.8L162.5 666.5M175.4 669.5L176.9 654.7L177.7 670.6M205.9 677.7L207.3 636.9L208.2 678.8M124.3 657.5L125.8 648.2L126.6 658.6M200.5 678L201.8 643.9L202.8 679.1M134.1 661.9L135.4 629L136.4 663M160.7 669.1L161.5 641.2L163 670.1" stroke="#222" stroke-width="0.8" fill="#fff" fill-opacity="0.35" stroke-linejoin="miter" stroke-miterlimit="20"/>
<path d="M209 650.5L209.9 635.9L211.3 651.5M182.9 647L183.8 588.3L185.2 648M194.3 650.1L195.6 591.6L196.6 651.1M224.8 658.3L225.8 650.8L227.1 659.3M169.8 645.2L170.8 577.9L172.1 646.3M177.5 647.3L178.5 591.8L179.8 648.3M185.1 649.3L186 559.2L187.4 650.4M192.7 651.4L193.6 606.7L195 652.4M196.5 652.4L197.7 570.4L198.8 653.4M207.9 655.5L209.2 625.3L210.2 656.5M191.1 652.7L191.9 607.4L193.4 653.7M178 651L178.9 559.8L180.3 652M193.3 655.1L194.4 584L195.6 656.1M200.9 657.1L202 579.1L203.2 658.1M223.8 663.3L224.5 650.4L226 664.3M227.6 664.3L228.6 652.1L229.8 665.3M165 649.2L165.8 606.6L167.3 650.2M180.2 653.3L181.2 618.4L182.5 654.3M218.3 663.5L219.8 648.8L220.6 664.6M151.9 647.4L153.3 608.6L154.2 648.5M171 652.6L172.2 550.4L173.3 653.6M174.8 653.6L175.6 607.2L177.1 654.6M178.6 654.6L179.8 599.6L180.9 655.6M201.5 660.8L202.9 596.2L203.7 661.8M205.3 661.8L206.6 623.2L207.6 662.8M154.1 649.8L155.6 617.9L156.4 650.8M157.9 650.8L159 533.1L160.2 651.8M184.6 658L186.1 563.8L186.9 659M196 661.1L197.2 535.3L198.3 662.1M199.8 662.1L201.3 587.5L202.1 663.1" stroke="#000" stroke-width="0.8" stroke-linejoin="miter" stroke-miterlimit="20" fill="none"/>
<path d="M137 647L138.7 633.2L139.8 648M156.1 652.1L157.1 559.8L158.8 653.1M186.6 660.3L187.7 565.4L189.3 661.4M190.4 661.3L191.9 492L193.1 662.4M201.8 664.4L203.3 535.3L204.5 665.5M169.7 657.5L171 561.1L172.4 658.6M173.5 658.6L175.1 493.5L176.2 659.6M177.3 659.6L178.6 551.6L180.1 660.6M181.1 660.6L182.6 608.4L183.9 661.6M184.9 661.6L186 534.4L187.7 662.7M196.4 664.7L198 609.9L199.1 665.7M200.2 665.7L201.4 570L202.9 666.8M207.8 667.8L208.8 635.5L210.5 668.8M168.1 658.9L169.8 580.3L170.8 659.9M179.5 661.9L181.1 548.3L182.2 663M194.7 666L196.4 626L197.5 667.1M206.2 669.1L207.7 636.7L208.9 670.1M210 670.1L211.5 643.9L212.7 671.2M213.8 671.2L215.3 644.5L216.5 672.2M221.4 673.2L223.1 639.1L224.2 674.2M229 675.3L230 650.8L231.8 676.3M151.2 656.1L152.6 568.8L153.9 657.1M155 657.1L156.2 607.3L157.8 658.1M166.4 660.2L167.6 624.9L169.2 661.2M181.7 664.3L182.7 626.5L184.4 665.3M196.9 668.4L198.5 600.1L199.7 669.4M216 673.5L217.7 632.9L218.7 674.5M153.4 658.4L154.6 591.7L156.1 659.4M161 660.5L162.4 625.5L163.8 661.5M172.4 663.5L174.1 630.5L175.2 664.6M176.3 664.6L177.9 521.4L179 665.6M180.1 665.6L181.7 612.3L182.8 666.6M183.9 666.6L184.9 631.7L186.6 667.6M187.7 667.6L188.9 626L190.4 668.7M191.5 668.7L193 603.2L194.2 669.7M195.3 669.7L196.5 636.8L198 670.7M199.1 670.7L200.2 579.3L201.9 671.7M202.9 671.7L203.9 562.4L205.7 672.8M206.7 672.8L207.8 628.7L209.5 673.8M210.5 673.8L212 639.4L213.3 674.8M218.2 675.8L219.4 648.1L220.9 676.9M159.4 661.8L160.6 629.3L162.1 662.8M167 663.8L168 628.8L169.8 664.9M170.8 664.9L172.2 553.7L173.6 665.9M174.6 665.9L175.8 635L177.4 666.9M182.2 667.9L183.5 601.3L185 669M186.1 669L187.5 590.4L188.8 670M197.5 672L198.5 631.4L200.2 673.1M201.3 673.1L202.4 642.5L204 674.1M165.4 665.2L166.5 612.3L168.1 666.2M169.2 666.2L170.7 622.2L171.9 667.2M176.8 668.2L178.3 596L179.6 669.3M184.4 670.3L186.1 645.9L187.2 671.3M188.2 671.3L189.3 637.5L191 672.3M207.3 676.4L209 639.6L210 677.5M144.7 661.3L145.9 648.7L147.5 662.4M179 670.6L180.7 649.6L181.7 671.6M182.8 671.6L184.5 652.6L185.6 672.6M186.6 672.6L187.7 653.2L189.4 673.6M190.4 673.6L191.5 651.4L193.2 674.7M220.9 681.8L222.3 645L223.7 682.9M158.3 666.8L159.5 633L161.1 667.8M165.9 668.8L167.7 604.8L168.7 669.8M173.6 670.9L175.2 654.7L176.3 671.9M188.8 675L190.1 638.8L191.6 676M192.6 676L193.6 662.6L195.4 677M204 679.1L205.2 665L206.8 680.1M175.8 673.2L177.3 631.1L178.5 674.2M147.5 667.3L148.8 629.7L150.2 668.4M174.1 674.5L175.5 639.9L176.9 675.5M181.8 676.6L182.8 635.4L184.5 677.6M185.6 677.6L187.3 650.6L188.3 678.6M189.4 678.6L190.7 655L192.1 679.6M197 680.7L198.4 666.7L199.7 681.7M153.5 670.7L154.6 661.1L156.2 671.7M183.9 678.9L185 647.4L186.7 679.9M214.4 687.1L215.6 665.6L217.2 688.1M136.6 667.9L138.1 652.4L139.3 669M151.8 672L152.9 666.7L154.6 673.1M167.1 676.1L168.8 638.5L169.8 677.2M178.5 679.2L179.7 655.4L181.3 680.2M189.9 682.3L191.2 649.2L192.7 683.3M209 687.4L210.3 652.9L211.7 688.4" stroke="#000" stroke-width="0.8" stroke-linejoin="miter" stroke-miterlimit="20" fill="#fff" fill-opacity="0.72"/>
<path d="M156.4 605.4V626.2M150.8 617.3V654.8M206.2 606.8V623.2M182.2 630.4V655.4M180.8 637.5V662.9M191.9 646.6V665.9M175.5 648.4V661.5M202.2 625.7V652.8M178.7 587.7V610.1M198.9 597.9V620.4M159.4 640.8V657.2M166.3 618.5V628.5M168.1 606V620.4M173.7 579.5V593.3M187.6 631.4V647.7M190.7 602.9V627M162.9 590.9V620.2M190.6 583.5V617.2M161.7 578.6V591.8M189.6 613.7V633.1M153.4 629.5V655.6M187 659.9V664.6M187.4 591.3V618.9M202.1 641V662.3M192.5 585.4V613.3M164.9 598.6V629.8M207.4 598.4V616.4M174.4 576.1V605.5M154.6 633.8V655.9M182.4 597.8V621.8M189.3 656V665.2M161.3 596.6V636.3M177.5 624.9V645.8M177.9 647.8V662.1M172.3 610.1V632.9M166.4 610.1V635.5M150.7 629.5V638M178.5 605.6V623.1M186.7 621.6V649.7M154.2 586.6V603.1M181.7 619.6V645M206 614.5V630.9M208.1 607.1V643.7M183.6 643.1V662M185.1 606.3V636.5M185.6 602.7V636.9M157.7 620.4V633M163.7 620.5V633.8M190.8 651.2V665.6M159.6 613.5V651.5M179.1 612.7V637.3M174 593.8V610.4M198.4 653.8V667.7M180.4 580.8V595M179.5 641.6V662.6M182.9 577.9V613.8M171.8 607.8V632.1M174 589.8V615.7M161.1 603.4V637.4M197.1 657.6V667.3M178.1 579.4V615.8M196.2 660.3V667.1" stroke="#f4f4f4" stroke-width="0.95" fill="none"/>
<polyline points="143.6,648 144.4,532.5 145.8,532.5 146.2,613 148.8,644 152.4,624 155.2,649.7 160.7,596.5 163.4,626 169,591 170.8,540 174,567 176.7,560 178.7,512 180.8,555 183.6,602 187.3,580 190,604 193.3,567 194.7,517 197,560 200.8,550 202.5,518.5 205.8,555 207.5,580 209,620 212.5,664 218.5,640.5 221.2,668 225,643.3 228.6,670" stroke="#fa0000" stroke-width="1.7" fill="none" stroke-linejoin="miter" stroke-miterlimit="3"/>
<path d="M170.3 612L172.5 500L174.7 612ZM174.2 590L176 520L177.8 590ZM180.8 634L183 505L185.2 634ZM184.6 598L186.5 515L188.4 598ZM188.5 625L190.5 498L192.5 625ZM196.7 605L198.5 522L200.3 605ZM164.2 640L166 530L167.8 640ZM203.1 618L204.3 545L205.5 618Z" stroke="#000" stroke-width="0.6" fill="#000" stroke-linejoin="miter" stroke-miterlimit="30"/>
<path d="M83.1 632.6L464.1 735.1" stroke="#fa0000" stroke-width="3.3" fill="none"/>
<text x="169.5" y="563.5" font-family="'Liberation Serif','DejaVu Serif',serif" font-size="8.3" font-weight="bold" fill="#f4f7ff"  xml:space="preserve">0A</text>
<path d="M545.3 464.2V669.3" stroke="#222" stroke-width="1.4"/>
<text x="555.4" y="479" font-family="'Liberation Serif','DejaVu Serif',serif" font-size="14.4" font-weight="bold" fill="#1a1208" textLength="23.9" lengthAdjust="spacingAndGlyphs"  xml:space="preserve">9000</text>
<text x="555.4" y="500.3" font-family="'Liberation Serif','DejaVu Serif',serif" font-size="14.4" font-weight="bold" fill="#1a1208" textLength="23.9" lengthAdjust="spacingAndGlyphs"  xml:space="preserve">8000</text>
<text x="555.4" y="524.7" font-family="'Liberation Serif','DejaVu Serif',serif" font-size="14.4" font-weight="bold" fill="#1a1208" textLength="23.9" lengthAdjust="spacingAndGlyphs"  xml:space="preserve">7000</text>
<text x="555.4" y="545.7" font-family="'Liberation Serif','DejaVu Serif',serif" font-size="14.4" font-weight="bold" fill="#1a1208" textLength="23.9" lengthAdjust="spacingAndGlyphs"  xml:space="preserve">6000</text>
<text x="555.4" y="567" font-family="'Liberation Serif','DejaVu Serif',serif" font-size="14.4" font-weight="bold" fill="#1a1208" textLength="23.9" lengthAdjust="spacingAndGlyphs"  xml:space="preserve">5000</text>
<text x="555.4" y="588.7" font-family="'Liberation Serif','DejaVu Serif',serif" font-size="14.4" font-weight="bold" fill="#1a1208" textLength="23.9" lengthAdjust="spacingAndGlyphs"  xml:space="preserve">4000</text>
<text x="555.4" y="613.2" font-family="'Liberation Serif','DejaVu Serif',serif" font-size="14.4" font-weight="bold" fill="#1a1208" textLength="23.9" lengthAdjust="spacingAndGlyphs"  xml:space="preserve">3000</text>
<text x="555.4" y="633.7" font-family="'Liberation Serif','DejaVu Serif',serif" font-size="14.4" font-weight="bold" fill="#1a1208" textLength="23.9" lengthAdjust="spacingAndGlyphs"  xml:space="preserve">2000</text>
<text x="555.4" y="655.5" font-family="'Liberation Serif','DejaVu Serif',serif" font-size="14.4" font-weight="bold" fill="#1a1208" textLength="23.9" lengthAdjust="spacingAndGlyphs"  xml:space="preserve">1000</text>
<text x="555.4" y="676" font-family="'Liberation Serif','DejaVu Serif',serif" font-size="14.4" font-weight="bold" fill="#1a1208" textLength="5.7" lengthAdjust="spacingAndGlyphs"  xml:space="preserve">0</text>
<path d="M545.3 472.5H551.3M545.3 493.8H551.3M545.3 518.2H551.3M545.3 539.2H551.3M545.3 560.5H551.3M545.3 582.2H551.3M545.3 606.7H551.3M545.3 627.2H551.3M545.3 649H551.3M545.3 669.5H551.3" stroke="#222" stroke-width="1.3"/>
<g transform="translate(541 654.8) rotate(-90)"><text x="0" y="0" font-family="'Liberation Mono','DejaVu Sans Mono',monospace" font-size="8.4" font-weight="bold" fill="#111" textLength="144.2" lengthAdjust="spacingAndGlyphs"  xml:space="preserve">(ATOMS/cm3)/(ATOMS/cm2)</text></g>
<text x="583.2" y="443.6" font-family="'Liberation Sans','DejaVu Sans',sans-serif" font-size="14" font-weight="bold" fill="#111" textLength="13.6" lengthAdjust="spacingAndGlyphs"  xml:space="preserve">b)</text>
<text x="256.5" y="477.5" font-family="'Liberation Serif','DejaVu Serif',serif" font-size="29.6" font-weight="bold" fill="#0c0a08" textLength="228.8" lengthAdjust="spacingAndGlyphs"  xml:space="preserve">Ion Distribution</text>
<text x="256.8" y="502" font-family="'Liberation Serif','DejaVu Serif',serif" font-size="13.1" font-weight="bold" fill="#1b1b86" textLength="77.8" lengthAdjust="spacingAndGlyphs"  xml:space="preserve">Ion Range =</text>
<text x="343" y="502" font-family="'Liberation Serif','DejaVu Serif',serif" font-size="13.1" font-weight="bold" fill="#1b1b86" textLength="40.8" lengthAdjust="spacingAndGlyphs"  xml:space="preserve">3938 A</text>
<text x="404.3" y="502" font-family="'Liberation Serif','DejaVu Serif',serif" font-size="13.1" font-weight="bold" fill="#1b1b86" textLength="113.2" lengthAdjust="spacingAndGlyphs"  xml:space="preserve">Skewness = -0.155</text>
<text x="256.8" y="523" font-family="'Liberation Serif','DejaVu Serif',serif" font-size="13.1" font-weight="bold" fill="#1b1b86" textLength="63.4" lengthAdjust="spacingAndGlyphs"  xml:space="preserve">Straggle =</text>
<text x="335" y="523" font-family="'Liberation Serif','DejaVu Serif',serif" font-size="13.1" font-weight="bold" fill="#1b1b86" textLength="33.8" lengthAdjust="spacingAndGlyphs"  xml:space="preserve">722 A</text>
<text x="404.3" y="523" font-family="'Liberation Serif','DejaVu Serif',serif" font-size="13.1" font-weight="bold" fill="#1b1b86" textLength="102" lengthAdjust="spacingAndGlyphs"  xml:space="preserve">Kurtosis = 2.970</text>
<text x="148" y="813.9" font-family="'Liberation Serif','DejaVu Serif',serif" font-size="9.8" font-weight="bold" fill="#1c1cf5" textLength="286" lengthAdjust="spacingAndGlyphs"  xml:space="preserve">Plot Window goes from 0 A to 1.5 um;  cell width = 150 A</text>
</g>
<g>
<polygon points="5.5,1114 164.3,984.7 536.3,1085.7 377.5,1215" fill="#fdfdfd"/>
<path d="M5.5 1114L377.5 1215M7.09 1112.71L379.09 1213.71M8.68 1111.41L380.68 1212.41M10.26 1110.12L382.26 1211.12M11.85 1108.83L383.85 1209.83M13.44 1107.54L385.44 1208.54M15.03 1106.24L387.03 1207.24M16.62 1104.95L388.62 1205.95M18.2 1103.66L390.2 1204.66M19.79 1102.36L391.79 1203.36M21.38 1101.07L393.38 1202.07M22.97 1099.78L394.97 1200.78M24.56 1098.48L396.56 1199.48M26.14 1097.19L398.14 1198.19M27.73 1095.9L399.73 1196.9M29.32 1094.61L401.32 1195.61M30.91 1093.31L402.91 1194.31M32.5 1092.02L404.5 1193.02M34.08 1090.73L406.08 1191.73M35.67 1089.43L407.67 1190.43M37.26 1088.14L409.26 1189.14M38.85 1086.85L410.85 1187.85M40.44 1085.55L412.44 1186.55M42.02 1084.26L414.02 1185.26M43.61 1082.97L415.61 1183.97M45.2 1081.67L417.2 1182.67M46.79 1080.38L418.79 1181.38M48.38 1079.09L420.38 1180.09M49.96 1077.8L421.96 1178.8M51.55 1076.5L423.55 1177.5M53.14 1075.21L425.14 1176.21M54.73 1073.92L426.73 1174.92M56.32 1072.62L428.32 1173.62M57.9 1071.33L429.9 1172.33M59.49 1070.04L431.49 1171.04M61.08 1068.74L433.08 1169.74M62.67 1067.45L434.67 1168.45M64.26 1066.16L436.26 1167.16M65.84 1064.87L437.84 1165.87M67.43 1063.57L439.43 1164.57M69.02 1062.28L441.02 1163.28M70.61 1060.99L442.61 1161.99M72.2 1059.69L444.2 1160.69M73.78 1058.4L445.78 1159.4M75.37 1057.11L447.37 1158.11M76.96 1055.81L448.96 1156.81M78.55 1054.52L450.55 1155.52M80.14 1053.23L452.14 1154.23M81.72 1051.94L453.72 1152.94M83.31 1050.64L455.31 1151.64M84.9 1049.35L456.9 1150.35M86.49 1048.06L458.49 1149.06M88.08 1046.76L460.08 1147.76M89.66 1045.47L461.66 1146.47M91.25 1044.18L463.25 1145.18M92.84 1042.88L464.84 1143.88M94.43 1041.59L466.43 1142.59M96.02 1040.3L468.02 1141.3M97.6 1039.01L469.6 1140.01M99.19 1037.71L471.19 1138.71M100.78 1036.42L472.78 1137.42M102.37 1035.13L474.37 1136.13M103.96 1033.83L475.96 1134.83M105.54 1032.54L477.54 1133.54M107.13 1031.25L479.13 1132.25M108.72 1029.95L480.72 1130.95M110.31 1028.66L482.31 1129.66M111.9 1027.37L483.9 1128.37M113.48 1026.08L485.48 1127.08M115.07 1024.78L487.07 1125.78M116.66 1023.49L488.66 1124.49M118.25 1022.2L490.25 1123.2M119.84 1020.9L491.84 1121.9M121.42 1019.61L493.42 1120.61M123.01 1018.32L495.01 1119.32M124.6 1017.02L496.6 1118.02M126.19 1015.73L498.19 1116.73M127.78 1014.44L499.78 1115.44M129.36 1013.15L501.36 1114.15M130.95 1011.85L502.95 1112.85M132.54 1010.56L504.54 1111.56M134.13 1009.27L506.13 1110.27M135.72 1007.97L507.72 1108.97M137.3 1006.68L509.3 1107.68M138.89 1005.39L510.89 1106.39M140.48 1004.09L512.48 1105.09M142.07 1002.8L514.07 1103.8M143.66 1001.51L515.66 1102.51M145.24 1000.22L517.24 1101.22M146.83 998.92L518.83 1099.92M148.42 997.63L520.42 1098.63M150.01 996.34L522.01 1097.34M151.6 995.04L523.6 1096.04M153.18 993.75L525.18 1094.75M154.77 992.46L526.77 1093.46M156.36 991.16L528.36 1092.16M157.95 989.87L529.95 1090.87M159.54 988.58L531.54 1089.58M161.12 987.29L533.12 1088.29M162.71 985.99L534.71 1086.99M164.3 984.7L536.3 1085.7" stroke="#767676" stroke-width="0.4" fill="none"/>
<path d="M5.5 1114L164.3 984.7M9.22 1115.01L168.02 985.71M12.94 1116.02L171.74 986.72M16.66 1117.03L175.46 987.73M20.38 1118.04L179.18 988.74M24.1 1119.05L182.9 989.75M27.82 1120.06L186.62 990.76M31.54 1121.07L190.34 991.77M35.26 1122.08L194.06 992.78M38.98 1123.09L197.78 993.79M42.7 1124.1L201.5 994.8M46.42 1125.11L205.22 995.81M50.14 1126.12L208.94 996.82M53.86 1127.13L212.66 997.83M57.58 1128.14L216.38 998.84M61.3 1129.15L220.1 999.85M65.02 1130.16L223.82 1000.86M68.74 1131.17L227.54 1001.87M72.46 1132.18L231.26 1002.88M76.18 1133.19L234.98 1003.89M79.9 1134.2L238.7 1004.9M83.62 1135.21L242.42 1005.91M87.34 1136.22L246.14 1006.92M91.06 1137.23L249.86 1007.93M94.78 1138.24L253.58 1008.94M98.5 1139.25L257.3 1009.95M102.22 1140.26L261.02 1010.96M105.94 1141.27L264.74 1011.97M109.66 1142.28L268.46 1012.98M113.38 1143.29L272.18 1013.99M117.1 1144.3L275.9 1015M120.82 1145.31L279.62 1016.01M124.54 1146.32L283.34 1017.02M128.26 1147.33L287.06 1018.03M131.98 1148.34L290.78 1019.04M135.7 1149.35L294.5 1020.05M139.42 1150.36L298.22 1021.06M143.14 1151.37L301.94 1022.07M146.86 1152.38L305.66 1023.08M150.58 1153.39L309.38 1024.09M154.3 1154.4L313.1 1025.1M158.02 1155.41L316.82 1026.11M161.74 1156.42L320.54 1027.12M165.46 1157.43L324.26 1028.13M169.18 1158.44L327.98 1029.14M172.9 1159.45L331.7 1030.15M176.62 1160.46L335.42 1031.16M180.34 1161.47L339.14 1032.17M184.06 1162.48L342.86 1033.18M187.78 1163.49L346.58 1034.19M191.5 1164.5L350.3 1035.2M195.22 1165.51L354.02 1036.21M198.94 1166.52L357.74 1037.22M202.66 1167.53L361.46 1038.23M206.38 1168.54L365.18 1039.24M210.1 1169.55L368.9 1040.25M213.82 1170.56L372.62 1041.26M217.54 1171.57L376.34 1042.27M221.26 1172.58L380.06 1043.28M224.98 1173.59L383.78 1044.29M228.7 1174.6L387.5 1045.3M232.42 1175.61L391.22 1046.31M236.14 1176.62L394.94 1047.32M239.86 1177.63L398.66 1048.33M243.58 1178.64L402.38 1049.34M247.3 1179.65L406.1 1050.35M251.02 1180.66L409.82 1051.36M254.74 1181.67L413.54 1052.37M258.46 1182.68L417.26 1053.38M262.18 1183.69L420.98 1054.39M265.9 1184.7L424.7 1055.4M269.62 1185.71L428.42 1056.41M273.34 1186.72L432.14 1057.42M277.06 1187.73L435.86 1058.43M280.78 1188.74L439.58 1059.44M284.5 1189.75L443.3 1060.45M288.22 1190.76L447.02 1061.46M291.94 1191.77L450.74 1062.47M295.66 1192.78L454.46 1063.48M299.38 1193.79L458.18 1064.49M303.1 1194.8L461.9 1065.5M306.82 1195.81L465.62 1066.51M310.54 1196.82L469.34 1067.52M314.26 1197.83L473.06 1068.53M317.98 1198.84L476.78 1069.54M321.7 1199.85L480.5 1070.55M325.42 1200.86L484.22 1071.56M329.14 1201.87L487.94 1072.57M332.86 1202.88L491.66 1073.58M336.58 1203.89L495.38 1074.59M340.3 1204.9L499.1 1075.6M344.02 1205.91L502.82 1076.61M347.74 1206.92L506.54 1077.62M351.46 1207.93L510.26 1078.63M355.18 1208.94L513.98 1079.64M358.9 1209.95L517.7 1080.65M362.62 1210.96L521.42 1081.66M366.34 1211.97L525.14 1082.67M370.06 1212.98L528.86 1083.68M373.78 1213.99L532.58 1084.69M377.5 1215L536.3 1085.7" stroke="#767676" stroke-width="0.45" fill="none"/>
<path d="M5.5 1114L164.3 984.7" stroke="#000" stroke-width="2" fill="none"/>
<path d="M163.3 984.4L536.3 1085.7" stroke="#000" stroke-width="1.3" fill="none"/>
<path d="M6.5 1114L377.5 1214L536.3 1086.2" stroke="#000" stroke-width="3" fill="none" stroke-linejoin="miter"/>
<g transform="translate(25.8 1116.3) rotate(-39.2)"><text x="0" y="0" font-family="'Liberation Mono','DejaVu Sans Mono',monospace" font-size="12.6" font-weight="normal" fill="#111" textLength="50" lengthAdjust="spacingAndGlyphs" stroke="#111" stroke-width="0.35" xml:space="preserve">GLASS B</text></g>
<path d="M158.5 1057.8L160.5 990.7L162.5 1057.8ZM161.2 1037L162.7 979.8L164.3 1037ZM162.9 1033.1L165.2 978.1L167.4 1033.1ZM165.8 1011.7L168 977.5L170.1 1011.7ZM168.7 1025.5L170.2 960.7L171.8 1025.5ZM171.1 1008.4L173.1 957.3L175 1008.4ZM174.9 1008.8L176.4 957L177.9 1008.8ZM177.3 1016.8L179 956.2L180.8 1016.8ZM180.3 1002.2L181.9 918L183.4 1002.2ZM183.1 1010.9L184.5 928.8L186 1010.9ZM185.9 1016.1L187.6 906.8L189.3 1016.1ZM188.3 1004.3L190 928.2L191.7 1004.3ZM191.3 1002.7L193.1 952.1L194.9 1002.7ZM194.5 1015.8L196.3 964.2L198.1 1015.8ZM197.2 1023.6L199.5 976.5L201.7 1023.6ZM200.1 1041.7L202 1004.4L203.8 1041.7ZM202.5 1061.5L204.6 1011.9L206.7 1061.5Z" fill="#000" stroke="#000" stroke-width="0.5" stroke-linejoin="miter" stroke-miterlimit="30"/>
<path d="M186.3 1020L188 904L189.7 1020ZM179.4 1020L181 912.5L182.6 1020ZM182.9 1020L184.5 925L186.1 1020ZM189.5 1020L191 930L192.5 1020ZM172.2 1030L173.8 955L175.3 1030ZM168.5 1030L170 958L171.5 1030ZM195.9 1030L197.5 956L199.1 1030ZM184.5 1030L186 950L187.5 1030ZM176 1030L177.5 945L179 1030ZM163.6 1040L165 975L166.4 1040ZM192.6 1030L194 952L195.4 1030ZM150.1 1070L151 1012L151.9 1070ZM204 1075L205 1007L206 1075ZM216.6 1086L217.5 1040L218.4 1086Z" stroke="#000" stroke-width="0.9" fill="#000" stroke-linejoin="miter" stroke-miterlimit="30"/>
<path d="M203.6 1062.4L204.7 1040.5L205.8 1063.4M196.7 1064L198 1017.8L198.9 1065M172.7 1059.2L173.7 1025.2L175 1060.2M224.8 1073.3L226.2 1063L227.1 1074.4M212.1 1071.6L213.5 1048.1L214.3 1072.6M169.6 1061.8L171 1013.8L171.8 1062.8M191.9 1067.9L193.2 1046.8L194.1 1068.9M214.2 1073.9L215.7 1057.4L216.4 1074.9M229.1 1078L230.6 1070.6L231.3 1079M156.8 1060.1L157.8 1042.7L159.1 1061.1M186.6 1068.1L187.4 1027.1L188.8 1069.1M208.9 1074.2L210.1 1044L211.1 1075.2M216.3 1076.2L217.2 1054.7L218.6 1077.2M223.8 1078.2L225.2 1061.5L226 1079.2M181.3 1068.4L182.2 1034.7L183.5 1069.4M185 1069.4L186.2 1049.5L187.2 1070.4M199.9 1073.5L201 1052.4L202.1 1074.5M142.5 1059.6L143.4 1049.3L144.7 1060.6M157.4 1063.7L158.5 1045L159.6 1064.7M172.2 1067.7L173.7 1042.2L174.5 1068.7M183.4 1070.7L184.5 1058.4L185.6 1071.7M202 1075.8L202.8 1046.5L204.2 1076.8M209.4 1077.8L210.4 1054.1L211.7 1078.8M216.9 1079.8L218.3 1042.7L219.1 1080.8M224.3 1081.8L225.4 1066L226.6 1082.8M137.2 1059.9L138.5 1053.9L139.4 1060.9M148.3 1062.9L149.3 1028.6L150.6 1063.9M152.1 1063.9L153.3 1031.2L154.3 1064.9M189.3 1074L190.7 1032.6L191.5 1075M226.5 1084.1L227.6 1068.4L228.7 1085.1M139.3 1062.2L140 1056.4L141.5 1063.2M143 1063.2L144 1048.4L145.3 1064.2M176.5 1072.3L178 1026.3L178.7 1073.3M184 1074.3L185.4 1051.1L186.2 1075.3M191.4 1076.3L192.2 1043.2L193.6 1077.3M195.1 1077.3L195.9 1063.1L197.3 1078.4M224.9 1085.4L225.8 1069.6L227.1 1086.4M236 1088.5L237.2 1080.7L238.3 1089.5M137.7 1063.5L138.5 1053.2L140 1064.5M148.9 1066.5L150.3 1041.1L151.1 1067.5M171.2 1072.6L172.1 1031.5L173.4 1073.6M174.9 1073.6L175.9 1036.8L177.2 1074.6M182.4 1075.6L183.7 1047.9L184.6 1076.6M186.1 1076.6L187.1 1047.9L188.3 1077.6M197.2 1079.6L198 1058.8L199.5 1080.7M212.1 1083.7L213.1 1061.5L214.4 1084.7M219.6 1085.7L220.9 1066.5L221.8 1086.7M223.3 1086.7L224.6 1060.7L225.5 1087.7M158.5 1070.8L159.8 1031.4L160.7 1071.9M165.9 1072.9L166.8 1034.5L168.1 1073.9M173.3 1074.9L174.2 1052.4L175.6 1075.9M180.8 1076.9L181.5 1049.9L183 1077.9M184.5 1077.9L185.8 1031.7L186.7 1078.9M191.9 1079.9L192.9 1053.2L194.2 1080.9M203.1 1083L204.6 1069.7L205.3 1084M206.8 1084L208 1062.3L209 1085M149.4 1070.1L150.2 1046.3L151.7 1071.1M156.9 1072.1L157.7 1034L159.1 1073.1M164.3 1074.2L165.8 1031.4L166.5 1075.2M168 1075.2L168.9 1041.2L170.3 1076.2M175.5 1077.2L176.3 1028.4L177.7 1078.2M190.3 1081.2L191.3 1050.7L192.6 1082.2M197.8 1083.2L198.6 1037.6L200 1084.3M208.9 1086.3L210.1 1048.6L211.2 1087.3M125.5 1065.3L126.7 1056.3L127.8 1066.4M181.3 1080.5L182.8 1034L183.6 1081.5M188.8 1082.5L189.9 1059.7L191 1083.5M192.5 1083.5L193.2 1050.6L194.7 1084.5M203.6 1086.6L204.9 1068.9L205.9 1087.6M207.4 1087.6L208.4 1062.4L209.6 1088.6M131.4 1068.7L132.7 1048.8L133.6 1069.7M150 1073.7L150.8 1029.4L152.2 1074.7M153.7 1074.7L154.9 1030L155.9 1075.7M157.4 1075.7L158.9 1028.2L159.6 1076.7M161.1 1076.7L162.6 1052.5L163.4 1077.8M168.6 1078.8L170.1 1031L170.8 1079.8M213.2 1090.9L214.1 1048.7L215.4 1091.9M148.4 1075L149.2 1063L150.6 1076M152.1 1076L153.4 1049.2L154.3 1077M159.5 1078L160.4 1034L161.8 1079M167 1080.1L168.3 1053.6L169.2 1081.1M170.7 1081.1L172.2 1036L172.9 1082.1M193 1087.1L194.5 1054.2L195.3 1088.1M200.5 1089.1L201.8 1060.2L202.7 1090.2M204.2 1090.2L205.3 1050.4L206.4 1091.2M211.6 1092.2L212.4 1077.9L213.9 1093.2M182.4 1087.7L183.6 1041.9L184.6 1088.7M136.2 1076.9L137.1 1059.5L138.4 1077.9M139.9 1077.9L141 1053L142.1 1078.9M214.3 1098.1L215.4 1084.9L216.5 1099.1" stroke="#222" stroke-width="0.8" fill="#fff" fill-opacity="0.35" stroke-linejoin="miter" stroke-miterlimit="20"/>
<path d="M207.3 1063.4L208.3 1056.5L209.5 1064.4M215.3 1069L216.1 1062.3L217.5 1070M206.2 1068.3L207.1 1062.1L208.5 1069.3M186 1064.5L187.5 1011.9L188.3 1065.5M193.5 1066.6L194.5 1022.5L195.7 1067.6M165.9 1060.8L166.9 1023.1L168.1 1061.8M184.5 1065.8L185.8 984L186.7 1066.8M203.1 1070.9L204 1055.1L205.3 1071.9M179.1 1066.1L180.4 976.8L181.4 1067.1M190.3 1069.1L191.4 1032.1L192.5 1070.2M205.2 1073.2L206.2 1057.4L207.4 1074.2M166.4 1064.4L167.6 1036.7L168.6 1065.4M177.6 1067.4L178.9 1007.1L179.8 1068.4M192.4 1071.4L193.4 979.5L194.7 1072.5M196.2 1072.5L197.3 1036L198.4 1073.5M207.3 1075.5L208.3 1029.2L209.5 1076.5M164.8 1065.7L165.9 990.8L167 1066.7M168.5 1066.7L169.6 974.6L170.8 1067.7M187.1 1071.7L188.3 980.4L189.4 1072.7M190.8 1072.7L192.1 979.2L193.1 1073.8M194.6 1073.8L195.6 994.2L196.8 1074.8M174.4 1070L175.4 1006.7L176.6 1071M178.1 1071L179.4 963.2L180.3 1072M193 1075L194 1017.7L195.2 1076.1M196.7 1076.1L198.2 994.9L198.9 1077.1M204.1 1078.1L205.5 1035.5L206.4 1079.1M207.9 1079.1L208.9 1064.1L210.1 1080.1M211.6 1080.1L212.5 1035.2L213.8 1081.1M157.9 1067.2L159.2 997.2L160.1 1068.3M165.4 1069.3L166.1 1000L167.6 1070.3M172.8 1071.3L174 1044.6L175 1072.3M180.2 1073.3L181.1 956.3L182.5 1074.3M198.8 1078.4L199.6 1019L201.1 1079.4M202.6 1079.4L203.4 1053.8L204.8 1080.4M206.3 1080.4L207.1 1013.3L208.5 1081.4M213.7 1082.4L214.5 1050.8L215.9 1083.4" stroke="#000" stroke-width="0.8" stroke-linejoin="miter" stroke-miterlimit="20" fill="none"/>
<path d="M178.4 1074.6L180.1 963.4L181.1 1075.6M193.3 1078.6L194.7 962.8L196 1079.7M200.7 1080.7L202.1 1030.9L203.4 1081.7M169.4 1073.9L170.6 1034.7L172.1 1074.9M176.8 1075.9L178 998.7L179.5 1076.9M182.7 1079.2L184 964.6L185.4 1080.2M186.4 1080.2L187.9 1008.8L189.1 1081.2M193.8 1082.2L195.4 1006.8L196.5 1083.2M201.3 1084.3L202.3 1041L204 1085.3M162.5 1075.4L164.1 1004.7L165.2 1076.5M166.2 1076.5L167.3 1000.8L168.9 1077.5M177.4 1079.5L179.1 1005L180.1 1080.5M184.8 1081.5L186.1 1052.1L187.5 1082.5M196 1084.5L197.1 1067.7L198.7 1085.5M214.6 1089.6L215.6 1059.1L217.3 1090.6M164.6 1077.8L165.9 1043.9L167.3 1078.8M172.1 1079.8L173.8 1057.9L174.7 1080.8M175.8 1080.8L177 1027L178.5 1081.8M183.2 1082.8L184.4 1067.2L185.9 1083.8M186.9 1083.8L187.9 1029.3L189.6 1084.8M190.7 1084.8L191.9 977L193.3 1085.8M201.8 1087.9L202.9 1065.9L204.5 1088.9M220.4 1092.9L221.6 1063.4L223.1 1093.9M163 1079L164.5 1055.6L165.7 1080.1M185.4 1085.1L187 962.8L188 1086.1M196.5 1088.1L197.8 1069.6L199.2 1089.1M154 1078.3L155.2 1046.7L156.7 1079.3M172.6 1083.4L174.1 1031.3L175.3 1084.4M183.8 1086.4L184.8 1066.9L186.5 1087.4M187.5 1087.4L188.5 1046.9L190.2 1088.4M191.2 1088.4L192.3 1063.8L193.9 1089.4M213.5 1094.5L214.5 1077.9L216.2 1095.5M178.5 1086.7L179.7 1012L181.1 1087.7M154.6 1081.9L155.9 1068.3L157.2 1082.9M158.3 1082.9L159.9 1071.8L161 1083.9M162 1083.9L163.7 1063.3L164.7 1084.9M173.2 1087L174.2 1046L175.8 1088M180.6 1089L181.8 1056.2L183.3 1090M184.3 1090L185.3 1057.6L187 1091M134.4 1078.2L136 1074.6L137 1079.2M167.8 1087.2L169.2 1043.8L170.5 1088.3M182.7 1091.3L184 1073.6L185.4 1092.3M151.4 1084.5L152.4 1073.6L154.1 1085.5M166.3 1088.5L167.2 1054.2L168.9 1089.6M184.9 1093.6L186.5 1075.5L187.5 1094.6M192.3 1095.6L193.9 1068.5L195 1096.6M142.4 1083.8L143.6 1063.6L145 1084.8M161 1088.8L162.3 1053.5L163.6 1089.8M168.4 1090.8L169.7 1048.2L171.1 1091.9M194.4 1097.9L195.6 1060.8L197.1 1098.9M209.3 1102L210.4 1073.1L212 1103M170.5 1093.1L171.8 1066.2L173.2 1094.2M178 1095.2L179.1 1068.1L180.6 1096.2" stroke="#000" stroke-width="0.8" stroke-linejoin="miter" stroke-miterlimit="20" fill="#fff" fill-opacity="0.72"/>
<path d="M181.5 1059.4V1079.6M167.2 1029.6V1045.4M160.8 1021.5V1049.7M165.9 1057.6V1075.3M187.5 1057.1V1081.2M189.7 1032V1061.2M199.6 1030.3V1066.3M196.8 1028V1048.5M207.9 1077.8V1086.7M195.5 1025.6V1064.9M180.1 1007.1V1015.9M191.1 1037.1V1060.7M166.5 1050.2V1075.5M173.4 1009.9V1033.8M206.4 1041.3V1074M195.8 1072.4V1083.5M193.8 1026.3V1045.8M189.7 1029.7V1045.9M182.2 1045V1070.9M176.6 1050.2V1078.2M187.8 1008V1033.4M205.4 1045.6V1057.3M200.1 1033.2V1066.4M172.3 1012.1V1048.7M194.3 1010.7V1028.5M177.7 1038.3V1074.1M198.4 1014.6V1023M173.6 1059.7V1077.4M161 1039.3V1050.6M175.9 998.5V1033.4M162.4 1051.2V1074.4M189.9 1072.6V1081.9M198.6 1031.1V1051.2M197.8 1016.5V1040.1M188.7 1005V1027M183.1 1020.7V1042M204.7 1055.5V1085.7M205.7 1057.7V1075M190.5 1061.3V1082M196.9 1024.3V1036.2M179.8 1030.7V1061.6M176.7 1017.6V1056.4M186.1 1048.9V1065.8M204.7 1047.8V1065.9M162.4 1008.8V1045.3M160.9 1026.9V1061M174.8 1010.8V1046.9M180.4 1064.2V1079.3" stroke="#f4f4f4" stroke-width="0.95" fill="none"/>
<polyline points="133.8,1063.8 137,1047 145,1047 148,1028.8 151,1048.8 160,1051 162,990 163,971 165.5,990 167.5,1013.8 172.5,1014 175,1055 178.8,1012.5 180,960 181.5,895.5 183,895.5 184.5,940 186.5,960 188.5,920 189.5,877 191,877 192,930 193.8,990 193.8,1020 208.8,1023.8 212.5,1085 216,1066 220,1047.5 223.5,1068 227.5,1087.5 231,1051 235,1090" stroke="#fa0000" stroke-width="1.7" fill="none" stroke-linejoin="miter" stroke-miterlimit="3"/>
<path d="M84.9 1049.3L456.9 1150.3" stroke="#fa0000" stroke-width="3.3" fill="none"/>
<text x="169.5" y="980" font-family="'Liberation Serif','DejaVu Serif',serif" font-size="8.1" font-weight="bold" fill="#f4f7ff"  xml:space="preserve">0A</text>
<path d="M536.3 884.7V1085.7" stroke="#222" stroke-width="1.4"/>
<text x="546.2" y="911.7" font-family="'Liberation Serif','DejaVu Serif',serif" font-size="14.1" font-weight="bold" fill="#1a1208" textLength="29.3" lengthAdjust="spacingAndGlyphs"  xml:space="preserve">12000</text>
<text x="546.2" y="944.7" font-family="'Liberation Serif','DejaVu Serif',serif" font-size="14.1" font-weight="bold" fill="#1a1208" textLength="29.3" lengthAdjust="spacingAndGlyphs"  xml:space="preserve">10000</text>
<text x="546.2" y="973.9" font-family="'Liberation Serif','DejaVu Serif',serif" font-size="14.1" font-weight="bold" fill="#1a1208" textLength="23.3" lengthAdjust="spacingAndGlyphs"  xml:space="preserve">8000</text>
<text x="546.2" y="1003.4" font-family="'Liberation Serif','DejaVu Serif',serif" font-size="14.1" font-weight="bold" fill="#1a1208" textLength="23.3" lengthAdjust="spacingAndGlyphs"  xml:space="preserve">6000</text>
<text x="546.2" y="1033.9" font-family="'Liberation Serif','DejaVu Serif',serif" font-size="14.1" font-weight="bold" fill="#1a1208" textLength="23.3" lengthAdjust="spacingAndGlyphs"  xml:space="preserve">4000</text>
<text x="546.2" y="1063.6" font-family="'Liberation Serif','DejaVu Serif',serif" font-size="14.1" font-weight="bold" fill="#1a1208" textLength="23.3" lengthAdjust="spacingAndGlyphs"  xml:space="preserve">2000</text>
<text x="546.2" y="1092.6" font-family="'Liberation Serif','DejaVu Serif',serif" font-size="14.1" font-weight="bold" fill="#1a1208" textLength="5.5" lengthAdjust="spacingAndGlyphs"  xml:space="preserve">0</text>
<path d="M536.3 905.3H542.3M536.3 938.3H542.3M536.3 967.5H542.3M536.3 997H542.3M536.3 1027.5H542.3M536.3 1057.2H542.3M536.3 1086.2H542.3" stroke="#222" stroke-width="1.3"/>
<g transform="translate(532.3 1071.3) rotate(-90)"><text x="0" y="0" font-family="'Liberation Mono','DejaVu Sans Mono',monospace" font-size="8.2" font-weight="bold" fill="#111" textLength="140.5" lengthAdjust="spacingAndGlyphs"  xml:space="preserve">(ATOMS/cm3)/(ATOMS/cm2)</text></g>
<text x="583" y="865.7" font-family="'Liberation Sans','DejaVu Sans',sans-serif" font-size="13.2" font-weight="bold" fill="#111" textLength="12.8" lengthAdjust="spacingAndGlyphs"  xml:space="preserve">c)</text>
<text x="234" y="889.5" font-family="'Liberation Serif','DejaVu Serif',serif" font-size="28.9" font-weight="bold" fill="#0c0a08" textLength="223.2" lengthAdjust="spacingAndGlyphs"  xml:space="preserve">Ion Distribution</text>
<text x="234.3" y="913.8" font-family="'Liberation Serif','DejaVu Serif',serif" font-size="12.8" font-weight="bold" fill="#1b1b86" textLength="75.8" lengthAdjust="spacingAndGlyphs"  xml:space="preserve">Ion Range =</text>
<text x="318.7" y="913.8" font-family="'Liberation Serif','DejaVu Serif',serif" font-size="12.8" font-weight="bold" fill="#1b1b86" textLength="40.8" lengthAdjust="spacingAndGlyphs"  xml:space="preserve">4058 A</text>
<text x="378.6" y="913.8" font-family="'Liberation Serif','DejaVu Serif',serif" font-size="12.8" font-weight="bold" fill="#1b1b86" textLength="106.4" lengthAdjust="spacingAndGlyphs"  xml:space="preserve">Skewness = 0.001</text>
<text x="234.3" y="934.5" font-family="'Liberation Serif','DejaVu Serif',serif" font-size="12.8" font-weight="bold" fill="#1b1b86" textLength="64.5" lengthAdjust="spacingAndGlyphs"  xml:space="preserve">Straggle =</text>
<text x="311.2" y="934.5" font-family="'Liberation Serif','DejaVu Serif',serif" font-size="12.8" font-weight="bold" fill="#1b1b86" textLength="31.8" lengthAdjust="spacingAndGlyphs"  xml:space="preserve">721 A</text>
<text x="378.6" y="934.5" font-family="'Liberation Serif','DejaVu Serif',serif" font-size="12.8" font-weight="bold" fill="#1b1b86" textLength="100.2" lengthAdjust="spacingAndGlyphs"  xml:space="preserve">Kurtosis = 2.755</text>
<text x="148" y="1233" font-family="'Liberation Serif','DejaVu Serif',serif" font-size="9.6" font-weight="bold" fill="#1c1cf5" textLength="278.5" lengthAdjust="spacingAndGlyphs"  xml:space="preserve">Plot Window goes from 0 A to 1.5 um;  cell width = 150 A</text>
</g>
</svg>
</body></html>
